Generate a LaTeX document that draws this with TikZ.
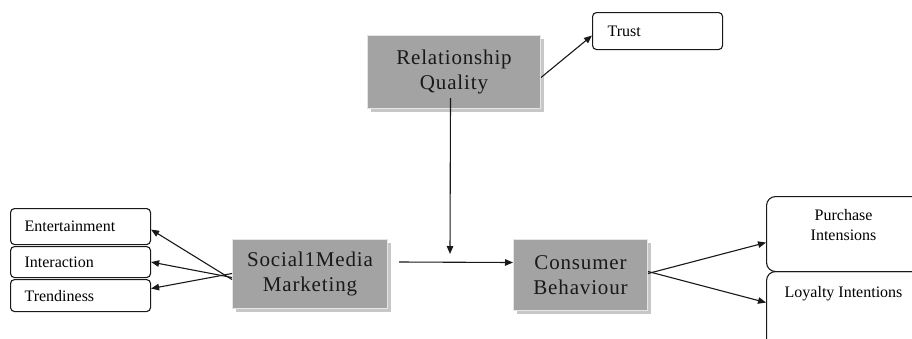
\documentclass[tikz,border=0pt]{standalone}
\usepackage{fontspec}
\setmainfont{Liberation Serif}
\newfontfamily\boxfont[LetterSpace=4]{Liberation Serif}
\usetikzlibrary{arrows.meta,shadows}
\begin{document}
\begin{tikzpicture}[x=1pt,y=-1pt,
  conn/.style={draw=black!90, line width=1.1pt, -{Triangle[length=8pt,width=6.5pt]}},
  itembox/.style={draw=black!90, line width=1.1pt, rounded corners=4pt, anchor=north west,
    inner ysep=0pt, align=left, font=\fontsize{16}{18}\selectfont, text=black},
  bigbox/.style={draw=black!90, line width=1.1pt, rounded corners=9pt, anchor=north west,
    inner sep=0pt},
  bigtext/.style={anchor=north, align=center, inner sep=0pt,
    font=\fontsize{16}{20}\selectfont, text=black},
  shaded/.style={fill=black!36, draw=black!10, line width=1pt, anchor=north west,
    inner sep=0pt, align=center, font=\boxfont\fontsize{21}{25}\selectfont, text=black!90,
    general shadow={fill=black!22, shadow xshift=3pt, shadow yshift=-3pt}}
]
\useasboundingbox (0,0) rectangle (912,338);
\fill[white] (0,0) rectangle (912,338);
\clip (0,0) rectangle (912,338);

% core constructs
\node[shaded, minimum width=173pt, minimum height=73pt] (rq) at (367,35) {Relationship\\Quality};
\node[shaded, minimum width=155pt, minimum height=69pt] (smm) at (232,239) {Social1Media\\Marketing};
\node[shaded, minimum width=134pt, minimum height=71pt] (cb) at (513,239) {Consumer\\Behaviour};

% dimension boxes
\node[itembox, minimum height=36pt, text width=112pt, inner xsep=14pt] (ent) at (10,208) {Entertainment};
\node[itembox, minimum height=31pt, text width=112pt, inner xsep=14pt] (int) at (10,246) {Interaction};
\node[itembox, minimum height=32pt, text width=112pt, inner xsep=14pt] (trend) at (10,279) {Trendiness};
\node[itembox, minimum height=37pt, text width=100pt, inner xsep=15pt] (trust) at (592,12) {Trust};

% outcome boxes
\node[bigbox, minimum width=154pt, minimum height=75pt,
  label={[bigtext, yshift=-13pt]north:Purchase\\Intensions}] (pur) at (766,196) {};
\node[bigbox, minimum width=154pt, minimum height=80pt,
  label={[bigtext, yshift=-15.5pt]north:Loyalty Intentions}] (loy) at (766,271) {};

% connectors
\coordinate (hs) at (399,262);
\coordinate (join) at (450,254);
\draw[conn] ([yshift=-5.5pt]smm.west) -- ([yshift=-3pt]ent.east);
\draw[conn] ([yshift=-3.5pt]smm.west) -- (int.east);
\draw[conn] ([yshift=0.5pt]smm.west) -- ([yshift=7pt]trend.east);
\draw[conn] ([yshift=-5.5pt]rq.east) -- ([yshift=-4.5pt]trust.west);
\draw[conn] ([xshift=-3.5pt,yshift=11pt]rq.south) -- (join);
\draw[conn] (hs) -- ([yshift=12.5pt]cb.west);
\draw[conn] ([yshift=1.5pt]cb.east) -- ([yshift=-8.5pt]pur.west);
\draw[conn] ([yshift=3.5pt]cb.east) -- ([yshift=9pt]loy.west);
\end{tikzpicture}
\end{document}
